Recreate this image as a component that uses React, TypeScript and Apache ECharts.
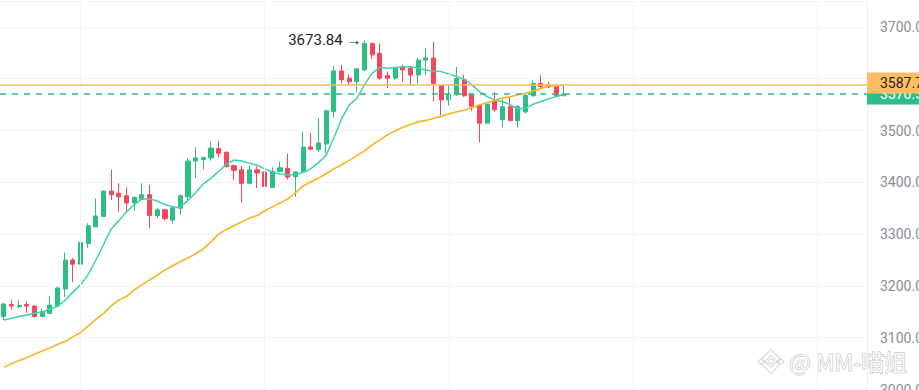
import React, { useEffect, useRef } from 'react';
import * as echarts from 'echarts';

const TOTAL_SLOTS = 113;

const opens = [3141, 3164, 3160, 3164, 3161, 3141, 3147, 3161, 3194, 3250, 3242, 3282, 3314, 3334, 3383, 3379, 3374, 3360, 3367, 3376, 3336, 3347, 3327, 3350, 3372, 3441, 3444, 3447, 3465, 3458, 3432, 3424, 3398, 3424, 3420, 3390, 3421, 3427, 3411, 3420, 3468, 3463, 3474, 3537, 3615, 3601, 3594, 3617, 3668, 3649, 3606, 3601, 3623, 3620, 3607, 3636, 3640, 3587, 3559, 3569, 3598, 3570, 3549, 3514, 3557, 3521, 3546, 3519, 3536, 3567, 3591, 3588, 3585, 3567];
const closes = [3165, 3161, 3162, 3161, 3141, 3149, 3163, 3196, 3250, 3242, 3284, 3316, 3335, 3383, 3376, 3372, 3360, 3371, 3376, 3336, 3347, 3330, 3351, 3374, 3441, 3447, 3448, 3466, 3456, 3430, 3423, 3398, 3424, 3418, 3392, 3421, 3428, 3410, 3420, 3468, 3464, 3476, 3538, 3615, 3598, 3594, 3619, 3668, 3646, 3601, 3601, 3620, 3617, 3607, 3636, 3640, 3591, 3559, 3570, 3600, 3567, 3547, 3514, 3551, 3540, 3546, 3519, 3546, 3568, 3591, 3585, 3584, 3567, 3570.52];
const lows = [3134, 3154, 3157, 3148, 3139, 3140, 3146, 3160, 3179, 3207, 3234, 3273, 3314, 3334, 3366, 3343, 3343, 3345, 3366, 3311, 3331, 3327, 3320, 3338, 3363, 3408, 3425, 3442, 3448, 3429, 3405, 3361, 3396, 3389, 3364, 3389, 3421, 3405, 3372, 3418, 3462, 3459, 3456, 3525, 3591, 3586, 3575, 3615, 3638, 3598, 3582, 3598, 3594, 3588, 3591, 3607, 3556, 3529, 3548, 3567, 3565, 3538, 3477, 3514, 3536, 3506, 3519, 3506, 3533, 3565, 3582, 3582, 3565, 3567];
const highs = [3167, 3173, 3172, 3170, 3162, 3156, 3180, 3199, 3264, 3254, 3292, 3321, 3369, 3384, 3424, 3398, 3390, 3372, 3398, 3395, 3351, 3349, 3352, 3377, 3447, 3468, 3449, 3478, 3480, 3459, 3434, 3431, 3432, 3431, 3420, 3429, 3440, 3455, 3421, 3498, 3495, 3524, 3540, 3625, 3627, 3609, 3619, 3673.84, 3670, 3668, 3614, 3623, 3627, 3623, 3640, 3659, 3671, 3588, 3588, 3623, 3607, 3570, 3549, 3552, 3574, 3561, 3565, 3549, 3570, 3598, 3607, 3594, 3587, 3589];

const maShort = [3134, 3137.6, 3141, 3144, 3147, 3150, 3155, 3161, 3172, 3188, 3202, 3222, 3250, 3280, 3310, 3326, 3343, 3357, 3368, 3368, 3364, 3357, 3353, 3352, 3365, 3380, 3397, 3408, 3421, 3435, 3443, 3441, 3437, 3433, 3426, 3420, 3416, 3414, 3415, 3419, 3426, 3438, 3452, 3485, 3522, 3549, 3562, 3588, 3610.6, 3622, 3620, 3621.5, 3623, 3623, 3620, 3617, 3615, 3613.7, 3609, 3604, 3599, 3588, 3575, 3565.5, 3559, 3556, 3549.6, 3541.7, 3543, 3550.8, 3556, 3561, 3565.5, 3570];
const maLong = [3042.7, 3050, 3056, 3062, 3068, 3074.5, 3080, 3087, 3093, 3101.5, 3110, 3123, 3135.5, 3147, 3161.4, 3173, 3180, 3192.3, 3202, 3211.6, 3221, 3231, 3239, 3246.5, 3254, 3262, 3271.4, 3285, 3300, 3309, 3316, 3323.6, 3330.7, 3336, 3345, 3352.5, 3360, 3368, 3379.5, 3393, 3401, 3408, 3416.5, 3426, 3434, 3442.3, 3451, 3460.6, 3472, 3482, 3491.5, 3499, 3506, 3512, 3516.6, 3519.5, 3523.4, 3527, 3532, 3536, 3539, 3544.6, 3549.4, 3554, 3558, 3563, 3565, 3569, 3572, 3576.5, 3581, 3586, 3586.6, 3587];

const categories = Array.from({ length: TOTAL_SLOTS }, (_, i) => String(i));
const yMin = 3000;
const yMax = 3750;
const yStep = 100;
const lastPrice = 3570.52;
const maLevel = 3587.71;
const peakIndex = 47;
const peakValue = 3673.84;
const verticalGridIdx = [10, 34, 58, 82, 106];

const GREEN = '#2ebd85';
const RED = '#f6465d';

export default function App() {
  const ref = useRef<HTMLDivElement>(null);
  useEffect(() => {
    document.body.style.margin = '0';
    if (!ref.current) return;
    const chart = echarts.init(ref.current, undefined, { renderer: 'svg' });
    const candleData = opens.map((o, i) => [o, closes[i], lows[i], highs[i]]);

    const cx = 771;
    const cy = 361.5;
    const logoStyle = { fill: 'rgba(255,255,255,0.85)', stroke: '#c4c4c4', lineWidth: 1 };
    const pts = (arr: number[][]) => arr.map(([dx, dy]) => [cx + dx, cy + dy]);

    chart.setOption({
      animation: false,
      textStyle: { fontFamily: 'Roboto, "Noto Sans", sans-serif' },
      grid: { left: 0, top: 1, width: 867, height: 388.5, containLabel: false, outerBoundsMode: 'none' },
      xAxis: {
        type: 'category',
        data: categories,
        boundaryGap: true,
        axisLine: { show: false },
        axisTick: { show: false },
        axisLabel: { show: false },
        splitLine: { show: false },
      },
      yAxis: {
        type: 'value',
        position: 'right',
        min: yMin,
        max: yMax,
        interval: yStep,
        axisLine: { show: true, lineStyle: { color: '#eff0f3' } },
        axisTick: { show: false },
        axisLabel: {
          color: '#848e9c',
          fontSize: 14,
          margin: 13,
          showMaxLabel: false,
          formatter: (v: number) => v.toFixed(1),
        },
        splitLine: { show: true, lineStyle: { color: '#f4f5f7', width: 1 } },
      },
      series: [
        {
          type: 'line',
          data: [],
          z: 1,
          silent: true,
          markLine: {
            silent: true,
            symbol: ['none', 'none'],
            label: { show: false },
            lineStyle: { color: '#f3f4f6', width: 1, type: 'solid' },
            data: verticalGridIdx.map((i) => ({ xAxis: categories[i] })),
          },
        },
        {
          type: 'candlestick',
          data: candleData,
          barWidth: 4.6,
          z: 3,
          itemStyle: {
            color: GREEN,
            color0: RED,
            borderColor: GREEN,
            borderColor0: RED,
            borderWidth: 1,
          },
          markPoint: {
            symbol: 'circle',
            symbolSize: 0,
            silent: true,
            data: [
              {
                coord: [categories[peakIndex], peakValue],
                label: {
                  show: true,
                  position: 'left',
                  distance: 3,
                  formatter: peakValue.toFixed(2) + ' →',
                  color: '#1e2329',
                  fontSize: 15,
                },
              },
            ],
          },
          markLine: {
            silent: true,
            symbol: ['none', 'none'],
            z: 8,
            lineStyle: { color: GREEN, width: 1.5, type: [6, 6] },
            label: {
              show: true,
              position: 'end',
              distance: 0,
              formatter: lastPrice.toFixed(2),
              backgroundColor: GREEN,
              color: '#ffffff',
              fontSize: 14,
              lineHeight: 15,
              padding: [3, 20, 3, 13],
              offset: [0, 0],
            },
            data: [{ yAxis: lastPrice }],
          },
        },
        {
          type: 'line',
          data: maShort,
          showSymbol: false,
          z: 4,
          lineStyle: { color: '#3fd2b2', width: 1.5 },
          silent: true,
        },
        {
          type: 'line',
          data: maLong,
          showSymbol: false,
          z: 5,
          lineStyle: { color: '#f8b425', width: 1.6 },
          silent: true,
          markLine: {
            silent: true,
            symbol: ['none', 'none'],
            z: 9,
            lineStyle: { color: '#fbbb59', width: 1.5, type: 'solid' },
            label: {
              show: true,
              position: 'end',
              distance: 0,
              formatter: maLevel.toFixed(2),
              backgroundColor: '#fdbd60',
              color: '#1e2329',
              fontSize: 14,
              lineHeight: 15,
              padding: [3, 20, 3, 13],
              offset: [0, -2],
            },
            data: [{ yAxis: maLevel }],
          },
        },
      ],
      graphic: [
        {
          type: 'group',
          z: 100,
          silent: true,
          children: [
            { type: 'polygon', shape: { points: pts([[-9, -3], [0, -12], [9, -3], [6, 0], [0, -6], [-6, 0]]) }, style: logoStyle },
            { type: 'polygon', shape: { points: pts([[-9, 3], [0, 12], [9, 3], [6, 0], [0, 6], [-6, 0]]) }, style: logoStyle },
            { type: 'polygon', shape: { points: pts([[0, -3], [3, 0], [0, 3], [-3, 0]]) }, style: logoStyle },
            { type: 'polygon', shape: { points: pts([[-13, 0], [-10, -3], [-7, 0], [-10, 3]]) }, style: logoStyle },
            { type: 'polygon', shape: { points: pts([[13, 0], [10, -3], [7, 0], [10, 3]]) }, style: logoStyle },
            {
              type: 'text',
              x: 789,
              y: 361,
              style: {
                text: '@ MM-喵姐',
                fontSize: 23,
                fontFamily: '"Noto Sans CJK SC", "Noto Sans", sans-serif',
                fill: 'rgba(255,255,255,0.85)',
                stroke: '#bdbdbd',
                lineWidth: 1,
                verticalAlign: 'middle',
                align: 'left',
              },
            },
          ],
        },
      ],
    });
    return () => chart.dispose();
  }, []);
  return <div ref={ref} style={{ position: 'absolute', left: 0, top: 0, width: 919, height: 390 }} />;
}
